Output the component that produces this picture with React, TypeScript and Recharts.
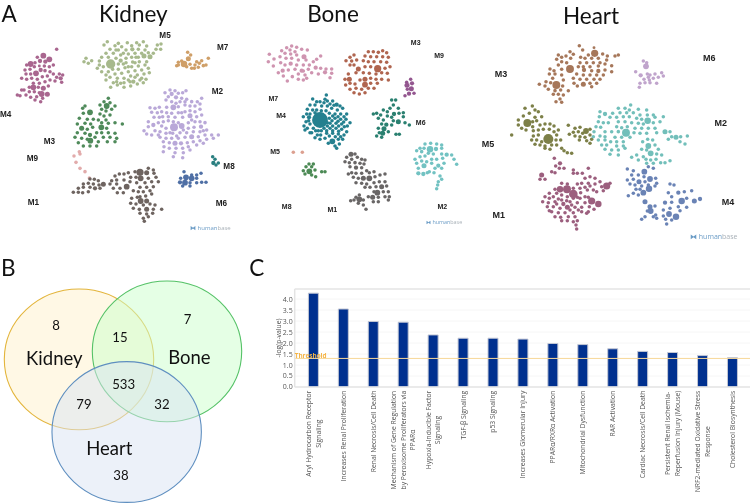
import {
  ScatterChart, Scatter, XAxis, YAxis, BarChart, Bar, CartesianGrid, ReferenceLine,
} from "recharts";

type Node = number[];

// network nodes are [x, y, radius?], radius defaults to a small node
const kidneyM4: Node[] = [[170,148],[130,167,8],[148,178,8],[112,172],[120,183,6],[136,185,6],[92,192,8],[105,188],[80,195],[75,210],[90,208],[103,200],[118,198,4],[133,198],[148,200],[160,195],[108,220,8],[122,210,6],[135,212,5],[150,215],[92,222],[78,222],[65,235],[80,238],[95,235],[112,238],[127,230],[142,228],[160,222],[178,222],[188,225],[170,232],[182,235,6],[150,240],[165,243],[185,247],[135,245],[118,250],[100,250],[72,270],[88,262],[100,262,8],[115,262],[130,265,7],[145,258],[88,275],[103,275],[118,278],[125,282,8],[142,283,7],[110,290],[128,295],[122,305],[105,300],[92,292],[52,285],[60,287],[65,270],[78,285]];
const kidneyM5: Node[] = [[322,125],[355,130,5],[382,128],[410,128],[430,125],[312,135],[345,137],[365,140],[395,137],[418,135],[440,138],[472,135],[483,132],[330,148],[355,150],[378,150],[397,148,6],[415,148],[435,150],[468,148],[482,148],[318,160],[340,160],[362,165],[385,162],[405,160],[425,160],[445,158],[305,172],[325,172],[348,175],[362,182,6],[378,175],[395,172],[415,172],[432,168,7],[450,170,7],[258,175],[275,182],[252,185],[265,190],[298,183],[332,192,13],[355,192],[378,188],[398,186],[418,185],[440,185],[292,205],[310,200],[355,208],[375,203],[395,200],[415,198],[435,195],[305,215],[325,215],[345,222],[365,220],[385,215],[405,212],[425,210],[445,205],[330,232],[352,235],[372,235],[392,228],[412,225],[432,222],[318,240],[340,248],[362,250],[400,245,6],[420,240],[438,238],[332,262],[372,262],[392,258],[412,252],[430,248],[352,255]];
const kidneyM5Fill: Node[] = [[298,195],[318,225],[338,208],[370,192],[385,200],[405,188],[408,172],[370,160],[348,150],[385,240],[405,232],[350,245],[372,248],[390,245],[448,218],[460,160],[425,235]];
const kidneyM7: Node[] = [[563,157],[572,165],[565,176,7],[552,192,9],[535,187],[545,183],[530,197],[560,200],[570,193],[575,205],[585,195],[590,185],[598,190],[605,182],[610,197,5],[618,195],[625,175],[583,205],[595,202],[535,195]];
const kidneyM2: Node[] = [[510,270],[525,272],[495,278],[515,282,6],[535,280],[548,278],[558,272],[505,290],[528,292,6],[545,295],[498,300],[515,305],[560,298],[575,305,5],[605,295],[592,305],[520,322,8],[500,322],[535,320],[555,315],[570,318],[585,318],[600,312],[450,323],[465,325],[478,322],[455,337],[472,338],[485,335],[500,338],[515,340],[535,338],[555,335],[570,347,7],[585,335],[600,328],[548,352],[462,352],[478,352],[590,350],[605,345],[445,365],[460,375,6],[475,368],[505,362],[520,365],[545,378,8],[565,368],[585,365],[600,365],[615,368,5],[432,392],[445,380],[465,392],[485,378],[498,385],[522,382,11],[535,368],[565,385],[582,382],[603,380,6],[498,400],[518,400],[540,398],[560,398],[580,395],[600,395],[620,390],[440,402],[455,405],[480,412],[498,415],[515,415],[535,415],[555,412],[575,410,7],[595,410],[615,405],[635,405],[655,405],[490,425],[508,428],[525,430,7],[543,430,6],[562,428],[580,425],[600,422],[620,418],[640,415],[492,440],[508,445],[528,445],[548,445],[565,440],[590,435],[610,430],[490,455],[525,458],[550,458],[570,450],[548,473],[520,470]];
const kidneyM2Fill: Node[] = [[480,395],[510,398],[530,408],[550,390],[475,405],[505,350],[525,352],[575,360],[488,350],[540,305],[555,305],[528,310],[570,332],[545,338],[610,392],[490,365]];
const kidneyM3: Node[] = [[325,295],[312,305],[330,308],[320,318,8],[345,318],[300,315],[255,318],[248,325],[270,337,8],[305,328],[318,333],[335,328],[250,340],[300,342],[312,348],[330,345],[238,355],[262,358],[280,358],[295,360],[318,360],[232,372],[255,370],[272,372],[305,368],[325,370],[345,368],[367,372],[245,385,7],[262,388],[278,382],[304,382,8],[320,385],[232,398],[255,400],[270,405,6],[290,398],[305,398],[325,398],[345,400],[225,412],[245,415],[262,418],[285,412],[310,412],[330,412],[350,415,5],[235,428],[271,422,8],[295,425],[322,425],[345,425],[250,438],[270,438],[290,438]];
const kidneyM9: Node[] = [[222,468],[240,462],[238,455],[228,487,5],[240,505,5],[255,515,5],[268,534]];
const kidneyM1: Node[] = [[420,517,10],[445,505],[460,510],[405,515],[385,518],[372,522],[440,518,7],[462,520],[358,522],[345,528],[392,532,5],[408,532],[422,535,8],[445,535],[468,532],[335,542],[350,540],[372,540],[390,545],[410,548],[435,548],[455,545],[475,545],[270,537],[283,538],[295,542],[330,552],[350,552],[380,560,8],[420,562],[440,562],[460,560],[250,552],[265,550],[280,552],[297,555,5],[310,553,7],[340,565],[360,565],[400,572],[415,575],[430,575],[450,572],[235,565],[250,562],[270,562],[285,565,6],[300,565],[352,578],[370,578],[420,590],[437,588],[455,582],[220,577],[235,577],[248,578],[265,575],[395,595],[412,592],[422,603,8],[440,603,7],[392,610],[408,612],[430,615],[450,612],[465,615],[400,625],[418,628,5],[440,628,7],[460,628],[485,628],[420,640],[440,642],[458,640],[430,655],[445,650],[433,664]];
const kidneyM8: Node[] = [[638,470],[645,478],[640,489,6],[655,489],[648,495]];
const kidneyM6: Node[] = [[552,515],[575,525],[590,525],[603,520],[542,535],[558,532,8],[575,535,8],[590,535],[540,547,6],[555,548,8],[570,548],[590,548],[605,547],[618,547],[548,558],[570,558]];

const boneM7: Node[] = [[125,138],[140,142],[110,143],[95,152],[120,150],[135,155],[155,148],[172,150],[105,160],[122,162],[140,165],[162,170,7],[58,163],[72,177,5],[90,170],[108,175],[125,175],[145,180],[168,180],[212,168],[200,178],[190,185],[55,185],[70,198],[92,188],[122,191,6],[105,195],[140,195],[160,195],[178,195],[197,203,6],[98,212,6],[115,210],[135,208],[155,212,6],[175,208],[212,205],[228,207],[245,207],[225,217,6],[245,220],[85,218],[100,228],[127,230,5],[145,222],[160,213],[165,225],[185,218],[205,222],[112,243],[145,238],[170,235],[240,233],[160,240]];
const boneM3: Node[] = [[355,155],[370,155],[385,157,5],[398,152],[410,158],[345,168],[362,170],[380,170],[398,170],[415,172],[312,165],[300,172],[288,182],[305,183],[320,180],[340,182],[355,185],[372,185],[392,185],[410,187],[300,195],[312,195],[325,207,7],[345,200],[362,200],[383,206,10],[405,205],[420,200],[318,218],[340,218],[358,220],[378,222],[395,218],[412,220],[295,222],[285,238],[298,238,7],[345,238,7],[330,240],[362,235],[378,238],[395,238],[415,240],[287,255],[300,250],[315,252],[345,254,8],[362,250],[382,250],[300,268],[318,265],[335,268],[355,265],[372,265],[312,278],[328,282],[345,278]];
const boneM9: Node[] = [[482,238],[470,247],[486,250,6],[471,256,7],[472,268],[484,266,7],[492,280],[477,281,6],[465,287]];
const boneM4: Node[] = [[210,360,22],[229,285],[225,298],[188,297],[200,305],[232,303],[248,303],[180,315],[195,315],[215,318],[232,318],[260,314,6],[172,328],[188,330],[245,325],[262,330],[278,325],[160,350],[177,352,6],[238,340],[255,342],[272,342],[290,342],[168,365],[162,378],[180,372],[238,355],[255,355],[272,358],[288,358],[300,368],[172,385],[190,385],[240,370],[258,370],[275,372],[292,378],[185,398],[205,392],[222,385],[240,385],[258,385],[275,388],[290,395],[212,405],[230,400],[248,400],[265,402],[282,405],[195,413],[210,418],[225,415],[247,424,8],[265,418],[278,418],[235,430],[255,438,5],[268,432],[260,445]];
const boneM4Fill: Node[] = [[200,330],[214,332],[228,332],[180,342],[195,338],[210,305],[222,308],[240,312],[252,316],[270,318],[246,362],[264,364],[282,350],[281,366],[248,348],[264,350],[248,378],[266,378],[283,380],[232,368],[232,378],[197,392],[180,398],[214,392],[230,392],[248,392],[266,394],[238,408],[256,410],[272,410],[202,405],[170,342],[165,390],[176,362]];
const boneM6: Node[] = [[425,300],[437,300],[430,315],[420,325],[445,325],[400,330],[412,335],[432,342,6],[447,340],[460,338],[380,340],[370,342],[392,345],[412,348],[425,352],[460,350],[445,365,7],[385,355],[400,360],[430,362],[465,368],[478,375],[395,372],[409,374,6],[425,375],[385,385],[402,386,7],[388,398],[398,400,7],[415,395],[380,408],[395,412],[438,403],[448,403]];
const boneM5: Node[] = [[130,457],[157,457]];
const boneM8: Node[] = [[177,492],[190,492],[168,500],[185,500],[160,512],[178,514,8],[195,510],[165,522],[185,525],[197,530],[215,515],[225,515]];
const boneM1: Node[] = [[303,463,7],[315,462],[290,472],[305,478],[322,472],[335,478],[345,480],[285,485],[298,488],[315,488,5],[330,490],[342,492],[300,500],[318,503,6],[335,503],[350,512],[305,518],[318,520],[335,520],[358,518],[372,515],[295,522],[310,532],[325,535],[340,535,7],[358,535,8],[375,530],[390,525],[405,522],[318,548],[335,550],[350,552],[372,548],[388,545],[405,545],[345,562],[360,562],[378,560],[395,560,7],[410,558],[372,575],[382,578,8],[400,575],[415,575],[355,590],[368,592,7],[385,592],[405,590],[418,590],[370,605],[385,605],[415,600],[328,585],[318,592],[328,598,8],[312,600],[302,602],[340,600],[325,610],[340,615],[348,628]];
const boneM2: Node[] = [[525,432],[542,430],[560,432],[575,435],[510,445],[522,445],[540,448,9],[558,447,6],[575,445],[500,452],[515,455,5],[535,460],[550,462],[495,478],[510,470],[525,468],[590,464,6],[575,462],[605,465],[612,478],[620,493],[545,478],[560,478],[578,475],[515,483,5],[530,485],[500,490],[545,490],[565,497,6],[582,490],[522,497,7],[505,505],[555,505],[575,505],[538,515],[552,518],[505,520,6],[520,522,6],[532,518],[570,528],[575,538],[565,545],[563,555],[560,566]];

const heartM3: Node[] = [[268,137],[278,150],[240,155],[250,163],[312,143,4],[205,165],[215,172],[228,168],[242,175],[314,160,10],[338,162],[352,168],[375,168],[385,165],[295,165],[305,175],[325,175],[350,180],[272,172],[285,175],[200,178],[215,185],[230,188],[270,188],[290,188],[310,188],[330,188],[345,192],[205,195],[240,207,11],[265,200],[280,200],[300,200],[325,198],[365,197],[180,207],[192,212],[215,208],[282,210,6],[305,212],[325,213,6],[345,210],[365,215],[178,222],[195,222],[215,225],[260,222],[280,225],[300,225],[320,225],[340,225],[188,235],[250,235],[270,238],[290,238],[312,238],[330,238],[168,245],[182,248],[199,255,11],[220,240],[252,250],[280,253,7],[300,250],[320,250],[148,253],[165,258],[218,258],[262,258],[305,260],[175,268],[195,272,5],[212,270],[235,272],[190,283],[205,283],[220,285],[210,297],[198,305],[215,307]];
const heartM6: Node[] = [[460,183],[470,188],[468,199,8],[437,215],[452,226,6],[472,222],[480,225],[495,222],[515,218],[462,238],[478,240],[490,235],[505,232],[520,228],[450,250],[465,248],[480,248],[500,250],[448,262],[475,232]];
const heartM5: Node[] = [[127,318],[105,325],[135,330],[145,335],[118,340],[100,348],[135,352],[155,350],[85,360],[112,369,11],[128,365],[140,362],[85,375],[95,385],[108,390],[128,380],[150,375],[165,372],[180,372],[192,378],[205,390],[235,376],[130,392],[145,390],[160,388],[178,388],[192,395],[65,405],[130,408],[145,405],[175,417,14],[200,405],[238,403],[125,420],[140,420],[155,425],[198,420],[212,420],[135,433],[150,435],[165,438],[185,435],[200,435],[165,445],[180,448],[215,445],[232,458],[245,460],[222,452],[255,385],[270,382],[288,393,8],[300,388],[250,397],[265,395],[278,400],[300,405],[255,408],[270,410],[285,412],[305,418],[268,420],[290,422],[300,430]];
const heartM2: Node[] = [[422,315],[385,325],[405,325],[418,330],[445,328],[470,330],[330,335],[345,342,6],[368,340],[390,338],[410,338],[430,338],[450,345],[472,345],[490,345],[328,350],[360,352],[380,352],[400,350],[418,350],[440,355],[455,358],[473,362,9],[495,352],[520,350],[325,365],[340,368],[355,368],[385,365],[405,365],[425,368],[445,370],[460,372],[490,368],[510,365],[318,380],[332,382],[380,380],[395,383],[412,380],[435,385],[455,385],[475,385],[495,385],[525,395,7],[312,395],[345,395],[365,395],[385,395,5],[408,398,11],[432,398],[450,400],[470,400],[500,398],[540,395],[310,410],[330,408],[345,410],[375,412],[395,412],[420,412],[545,410],[558,412,7],[572,410],[592,408],[325,420],[345,420],[362,425],[380,425],[400,425],[458,425],[473,418],[488,420],[535,418],[570,425],[585,432],[335,435],[350,435],[380,438],[400,438],[475,438,8],[495,435],[365,450,5],[345,448],[385,450],[405,445],[455,448],[470,450],[482,460,8],[505,448],[360,463],[385,465],[440,465],[425,472],[460,470],[500,462],[515,465],[445,480],[468,478],[482,480],[498,478],[525,488],[540,482],[512,488],[490,490],[470,490]];
const heartM1: Node[] = [[193,475],[210,490,6],[197,498],[222,505],[208,505],[185,515],[195,518],[250,510],[295,505],[155,525,7],[250,520],[262,520],[277,520],[285,535],[300,530],[315,535],[150,538],[165,538],[330,545],[215,550],[232,552],[195,568],[210,568,9],[231,568,11],[250,565],[275,550],[295,550],[315,552],[350,558,10],[335,560],[360,550],[178,580],[250,582,12],[272,578],[292,570],[310,570],[320,575],[165,590],[190,590],[215,585],[232,590],[270,595],[285,590],[305,603,10],[325,612,9],[158,605],[175,608],[195,605],[220,612,6],[240,605],[262,608],[285,608],[172,620],[190,620],[210,625],[232,622,7],[255,622],[275,622],[298,620],[185,635],[205,638],[225,638],[250,638],[275,635],[312,628],[195,650],[212,652],[235,650],[255,650],[290,640],[215,662],[232,662],[250,665],[262,662],[260,687],[258,675]];
const heartM1Fill: Node[] = [[200,580],[262,592],[178,595],[205,597],[230,602],[250,595],[295,592],[178,632],[215,600],[245,615],[265,630],[240,630],[295,635],[300,558],[285,562],[262,552],[340,572],[200,612],[270,565]];
const heartM4: Node[] = [[475,500],[490,505],[463,515,8],[412,507],[430,512],[445,525],[425,525],[462,530],[480,537,8],[497,535],[412,540],[430,538],[447,545,7],[465,545],[500,550],[420,552],[435,555],[455,558],[475,555],[495,558],[438,568],[450,568],[477,566,9],[540,552],[552,555],[460,578,8],[445,585],[415,587],[430,580],[535,578],[565,578,6],[583,575],[605,572],[545,590],[575,603,9],[590,595],[613,603,7],[630,597,6],[465,605,7],[525,608,6],[545,607],[565,620],[590,622],[480,620,7],[495,618],[472,633],[482,633,8],[520,630],[540,625],[570,632],[497,645],[537,642,8],[558,650,9],[520,648],[465,650],[455,658],[490,650],[500,655],[527,658],[545,660],[530,672]];

const kidneyModules: [Node[], string][] = [[kidneyM4, "#a9668f"], [kidneyM5, "#a7b98c"], [kidneyM5Fill, "#a7b98c"], [kidneyM7, "#cf9f68"], [kidneyM2, "#b9a8d8"], [kidneyM2Fill, "#b9a8d8"], [kidneyM3, "#4f8a5a"], [kidneyM9, "#e2abab"], [kidneyM1, "#6e6460"], [kidneyM8, "#2a7f80"], [kidneyM6, "#4f6fa5"]];
const boneModules: [Node[], string][] = [[boneM7, "#cf94b0"], [boneM3, "#b0654f"], [boneM9, "#93568f"], [boneM4, "#24808f"], [boneM4Fill, "#24808f"], [boneM6, "#2a8070"], [boneM5, "#dca090"], [boneM8, "#4c8a55"], [boneM1, "#696666"], [boneM2, "#72c2c2"]];
const heartModules: [Node[], string][] = [[heartM3, "#a6775a"], [heartM6, "#c0a4cc"], [heartM5, "#7d8048"], [heartM2, "#72bfba"], [heartM1, "#9c5f7e"], [heartM1Fill, "#9c5f7e"], [heartM4, "#6a83b5"]];

const kidneyLabels: [string, number, number][] = [["M5",495,107],["M7",668,143],["M2",652,273],["M4",17,342],["M3",148,425],["M9",97,475],["M8",687,500],["M1",100,607],["M6",664,610]];
const boneLabels: [string, number, number][] = [["M3",497,127],["M9",567,165],["M7",70,295],["M4",93,347],["M6",512,367],["M5",75,454],["M8",110,619],["M1",247,628],["M2",577,618]];
const heartLabels: [string, number, number][] = [["M6",658,174],["M3",33,222],["M2",692,369],["M5",-6,433],["M1",26,646],["M4",714,605]];

const vennSets: [string, number, number, string, string][] = [
  ["Kidney", 237, 328, "#fff2cc", "#e3b53c"],
  ["Bone", 501, 304, "#ccffcc", "#55c267"],
  ["Heart", 380, 546, "#dae3f3", "#5f8fc0"],
];
const vennNames: [string, number, number][] = [["Kidney",163,325],["Bone",568,320],["Heart",328,595]];
const vennCounts: [string, number, number][] = [["8",168,224],["7",563,207],["15",360,260],["533",371,402],["79",252,462],["32",486,462],["38",363,675]];

const pathwayLabels = [
  "Aryl Hydrocarbon Receptor\nSignaling", "Increases Renal Proliferation", "Renal Necrosis/Cell Death",
  "Mechanism of Gene Regulation\nby Peroxisome Proliferators via\nPPARα", "Hypoxia-Inducible Factor\nSignaling",
  "TGF-β Signaling", "p53 Signaling", "Increases Glomerular Injury", "PPARα/RXRα Activation",
  "Mitochondrial Dysfunction", "RAR Activation", "Cardiac Necrosis/Cell Death",
  "Persistent Renal Ischemia-\nReperfusion Injury (Mouse)", "NRF2-mediated Oxidative Stress\nResponse", "Cholesterol Biosynthesis",
];
const pathwayScores = [4.27, 3.55, 2.98, 2.95, 2.37, 2.22, 2.22, 2.18, 1.98, 1.93, 1.74, 1.62, 1.57, 1.43, 1.33];
const yTicks = [0, 0.5, 1, 1.5, 2, 2.5, 3, 3.5, 4];
const threshold = 1.3;

const toPoints = (nodes: Node[]) => nodes.map(([x, y, r]) => ({ x, y, r: (r ?? 4.9) * 1.08 }));
const toLabels = (rows: [string, number, number][]) => rows.map(([text, x, y]) => ({ text, x, y }));

function nodeShape(props: any) {
  return <circle cx={props.cx} cy={props.cy} r={props.payload.r / 3} fill={props.fill} />;
}

function textShape(fontSize: number, fontFamily: string, fontWeight: number | string, fill: string) {
  return (props: any) => (
    <text x={props.cx} y={props.cy} textAnchor="middle" dominantBaseline="central"
      fontSize={fontSize} fontFamily={fontFamily} fontWeight={fontWeight} fill={fill}>
      {props.payload.text}
    </text>
  );
}

function logoShape(fontSize: number) {
  return (props: any) => (
    <text x={props.cx} y={props.cy} dominantBaseline="central" fontSize={fontSize} fontFamily="Open Sans">
      <tspan fill="#6b9cc6">⧓ human</tspan>
      <tspan fill="#a9b1b8">base</tspan>
    </text>
  );
}

function ellipseShape(props: any) {
  const [, , , fill, stroke] = props.payload.set;
  return (
    <ellipse cx={props.cx} cy={props.cy} rx={74.7} ry={70.4} fill={fill} fillOpacity={0.5}
      stroke={stroke} strokeWidth={1.1} style={{ mixBlendMode: "multiply" }} />
  );
}

const LATO = "Lato";
const ARIAL = "Liberation Sans";

function Network({ left, width, height, xMin, xMax, yMax, modules, labels, labelSize, title, titleAt, logoAt, logoSize, letter }: any) {
  return (
    <div style={{ position: "absolute", left, top: 0 }}>
      <ScatterChart width={width} height={height} margin={{ top: 0, right: 0, bottom: 0, left: 0 }}>
        <XAxis type="number" dataKey="x" domain={[xMin, xMax]} hide allowDataOverflow />
        <YAxis type="number" dataKey="y" domain={[0, yMax]} reversed hide allowDataOverflow />
        {modules.map(([nodes, color]: [Node[], string], i: number) => (
          <Scatter key={i} data={toPoints(nodes)} fill={color} shape={nodeShape} isAnimationActive={false} />
        ))}
        <Scatter data={toLabels(labels)} shape={textShape(labelSize, ARIAL, 700, "#222")} isAnimationActive={false} />
        <Scatter data={[{ text: title, x: titleAt[0], y: titleAt[1] }]} shape={textShape(22.5, LATO, 400, "#111")} isAnimationActive={false} />
        {letter && <Scatter data={[{ text: letter, x: 27, y: 39 }]} shape={textShape(22.5, LATO, 400, "#111")} isAnimationActive={false} />}
        <Scatter data={[{ x: logoAt[0], y: logoAt[1] }]} shape={logoShape(logoSize)} isAnimationActive={false} />
      </ScatterChart>
    </div>
  );
}

function Venn() {
  return (
    <div style={{ position: "absolute", left: 0, top: 250 }}>
      <ScatterChart width={270} height={253} margin={{ top: 0, right: 0, bottom: 0, left: 0 }}>
        <XAxis type="number" dataKey="x" domain={[0, 810]} hide allowDataOverflow />
        <YAxis type="number" dataKey="y" domain={[0, 759]} reversed hide allowDataOverflow />
        {vennSets.map((set) => (
          <Scatter key={set[0]} data={[{ x: set[1], y: set[2], set }]} shape={ellipseShape} isAnimationActive={false} />
        ))}
        <Scatter data={toLabels(vennNames)} shape={textShape(18.5, LATO, 400, "#111")} isAnimationActive={false} />
        <Scatter data={toLabels(vennCounts)} shape={textShape(13.2, LATO, 400, "#111")} isAnimationActive={false} />
        <Scatter data={toLabels([["B", 25, 52], ["C", 770, 52]])} shape={textShape(22.5, LATO, 400, "#111")} isAnimationActive={false} />
      </ScatterChart>
    </div>
  );
}

const tickFont = '6.8px "Open Sans"';
const measure = document.createElement("canvas").getContext("2d")!;

function PathwayTick({ x, y, payload }: any) {
  const lines: string[] = payload.value.split("\n");
  measure.font = tickFont;
  const longest = Math.max(...lines.map((l) => measure.measureText(l).width));
  return (
    <g transform={`translate(${x},${386.7 - 280 + 4 + longest / 2}) rotate(-90)`}>
      {lines.map((line, i) => (
        <text key={i} x={0} y={(i - (lines.length - 1) / 2) * 9.7} textAnchor="middle" dominantBaseline="central"
          fontSize={6.8} fontFamily="Open Sans" fill="#555">
          {line}
        </text>
      ))}
    </g>
  );
}

function YTitle({ viewBox }: any) {
  const x = viewBox.x + 8;
  const y = viewBox.y + viewBox.height / 2;
  return (
    <text transform={`translate(${x},${y}) rotate(-90)`} textAnchor="middle" dominantBaseline="central"
      fontSize={6.8} fontFamily="Open Sans" fill="#555">
      -log(p-value)
    </text>
  );
}

function Pathways() {
  const data = pathwayLabels.map((label, i) => ({ label, score: pathwayScores[i] }));
  return (
    <div style={{ position: "absolute", left: 270, top: 280 }}>
      <BarChart width={480} height={223} data={data} margin={{ top: 9, right: 0, bottom: 0, left: 0 }}>
        <CartesianGrid vertical={false} stroke="#f6f6f6" />
        <XAxis dataKey="label" interval={0} height={116} tickLine={false} axisLine={{ stroke: "#e4e4e4", strokeWidth: 1.5 }}
          padding={{ left: 3.7, right: 2.6 }} tick={<PathwayTick />} />
        <YAxis width={24.7} domain={[0, 4.46]} ticks={yTicks} interval={0} allowDataOverflow tickLine={false} tickSize={0}
          axisLine={{ stroke: "#e4e4e4", strokeWidth: 1.5 }} tickFormatter={(v: number) => v.toFixed(1)}
          tick={{ fontSize: 7, fontFamily: "Open Sans", fill: "#555" }} tickMargin={2}
          label={<YTitle />} />
        <ReferenceLine y={4.46} stroke="#e6e6e6" strokeWidth={1.5} />
        <Bar dataKey="score" fill="#00308f" stroke="#c3c7d4" strokeWidth={1} barSize={10} isAnimationActive={false} />
        <ReferenceLine y={threshold} stroke="#f7d898" strokeWidth={1}
          label={{ value: "Threshold", position: "insideBottomLeft", offset: 0, fontSize: 6.4, fontWeight: 700, fontFamily: "Open Sans", fill: "#f5b445" }} />
      </BarChart>
    </div>
  );
}

export default function App() {
  return (
    <div style={{ position: "absolute", left: 0, top: 0, width: 750, height: 503, background: "#fff", overflow: "hidden" }}>
      <Network left={0} width={250} height={240} xMin={0} xMax={750} yMax={720} modules={kidneyModules} labels={kidneyLabels}
        labelSize={8.2} title="Kidney" titleAt={[400, 39]} logoAt={[570, 685]} logoSize={6} letter="A" />
      <Network left={250} width={250} height={240} xMin={0} xMax={750} yMax={720} modules={boneModules} labels={boneLabels}
        labelSize={7} title="Bone" titleAt={[249, 39]} logoAt={[528, 665]} logoSize={5.4} />
      <Network left={470} width={280} height={250} xMin={-60} xMax={780} yMax={750} modules={heartModules} labels={heartLabels}
        labelSize={9} title="Heart" titleAt={[303, 46]} logoAt={[600, 708]} logoSize={7} />
      <Venn />
      <Pathways />
    </div>
  );
}
